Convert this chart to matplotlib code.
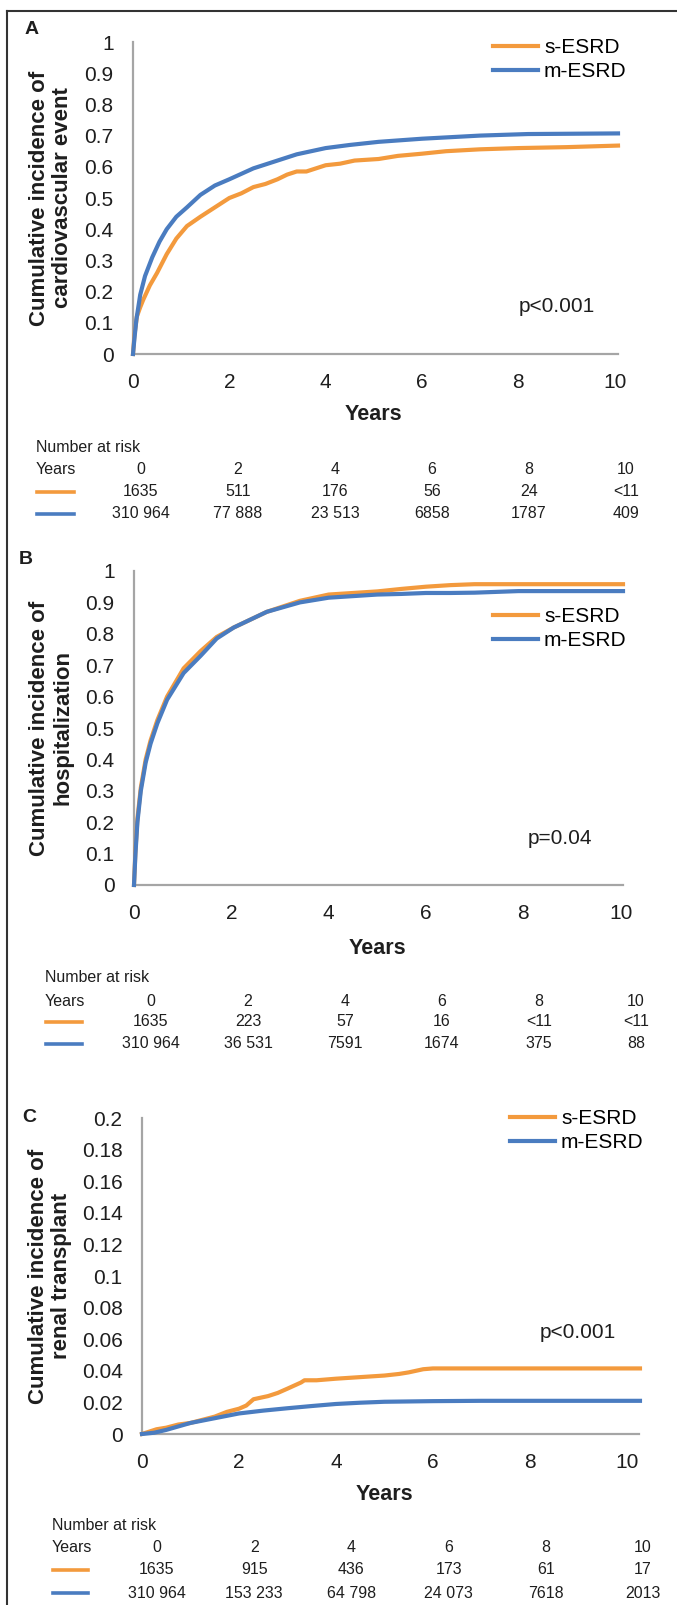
import matplotlib
import matplotlib.pyplot as plt
from matplotlib.lines import Line2D
from matplotlib.transforms import blended_transform_factory

W, H = 677, 1605
ORANGE = "#F39A3D"
BLUE = "#4A7CC0"
AXIS_GREY = "#A5A5A5"
TEXT = "#1E1E1E"

plt.rcParams["font.family"] = ["Liberation Sans", "DejaVu Sans"]

series_names = ["s-ESRD", "m-ESRD"]
risk_years = [0, 2, 4, 6, 8, 10]

# A: cardiovascular event
cv_t_s = [0, 0.03, 0.08, 0.15, 0.21, 0.35, 0.5, 0.7, 0.9, 1.12, 1.4, 1.7, 2, 2.25, 2.5,
          2.75, 3, 3.2, 3.4, 3.6, 3.8, 4, 4.3, 4.6, 5.1, 5.5, 6, 6.5, 7.2, 8, 9, 10.07]
cv_s = [0, 0.06, 0.12, 0.15, 0.173, 0.22, 0.26, 0.32, 0.37, 0.41, 0.44, 0.47, 0.50, 0.515, 0.535,
        0.545, 0.56, 0.575, 0.585, 0.585, 0.595, 0.605, 0.61, 0.62, 0.625, 0.635, 0.642, 0.65, 0.656, 0.66, 0.663, 0.668]
cv_t_m = [0, 0.03, 0.07, 0.15, 0.25, 0.4, 0.55, 0.7, 0.9, 1.12, 1.4, 1.7, 2, 2.5, 3, 3.4,
          4, 4.5, 5.1, 6, 7.2, 8.2, 10.07]
cv_m = [0, 0.05, 0.11, 0.19, 0.25, 0.31, 0.36, 0.40, 0.44, 0.47, 0.51, 0.54, 0.56, 0.595, 0.62, 0.64,
        0.66, 0.67, 0.68, 0.69, 0.70, 0.705, 0.707]
cv_risk_s = ["1635", "511", "176", "56", "24", "<11"]
cv_risk_m = ["310 964", "77 888", "23 513", "6858", "1787", "409"]

# B: hospitalization
hosp_t_s = [0, 0.03, 0.07, 0.14, 0.24, 0.34, 0.48, 0.68, 1.02, 1.37, 1.7, 2.05, 2.73, 3.41,
            4, 4.5, 5, 5.5, 6, 6.5, 7, 7.9, 10.05]
hosp_s = [0, 0.11, 0.21, 0.31, 0.40, 0.46, 0.525, 0.60, 0.69, 0.745, 0.79, 0.82, 0.87, 0.905,
          0.925, 0.93, 0.935, 0.943, 0.95, 0.955, 0.958, 0.958, 0.958]
hosp_t_m = [0, 0.03, 0.07, 0.14, 0.24, 0.34, 0.48, 0.68, 1.02, 1.37, 1.7, 2.05, 2.73, 3.41,
            4, 4.5, 5, 5.5, 6, 6.5, 7, 7.9, 10.05]
hosp_m = [0, 0.10, 0.20, 0.30, 0.39, 0.45, 0.515, 0.59, 0.675, 0.73, 0.785, 0.82, 0.87, 0.90,
          0.915, 0.92, 0.925, 0.927, 0.93, 0.93, 0.931, 0.936, 0.936]
hosp_risk_s = ["1635", "223", "57", "16", "<11", "<11"]
hosp_risk_m = ["310 964", "36 531", "7591", "1674", "375", "88"]

# C: renal transplant
tx_t_s = [0, 0.3, 0.5, 0.75, 1, 1.25, 1.5, 1.75, 2, 2.15, 2.3, 2.6, 2.8, 3, 3.28, 3.35,
          3.6, 4, 4.5, 5, 5.3, 5.5, 5.8, 6, 10.27]
tx_s = [0, 0.003, 0.004, 0.006, 0.007, 0.009, 0.011, 0.014, 0.016, 0.018, 0.022, 0.024, 0.026,
        0.0287, 0.0326, 0.034, 0.034, 0.035, 0.036, 0.037, 0.038, 0.039, 0.041, 0.0415, 0.0415]
tx_t_m = [0, 0.25, 0.5, 1, 1.5, 2, 2.5, 3, 3.5, 4, 4.5, 5, 6, 7, 10.27]
tx_m = [0, 0.0008, 0.0026, 0.007, 0.010, 0.013, 0.0148, 0.0163, 0.0177, 0.019, 0.0198, 0.0204,
        0.0208, 0.021, 0.021]
tx_risk_s = ["1635", "915", "436", "173", "61", "17"]
tx_risk_m = ["310 964", "153 233", "64 798", "24 073", "7618", "2013"]


def fx(px):
    return px / W


def fy(py):
    return 1 - py / H


def draw_panel(fig, p, t_s, s, t_m, m, risk_s, risk_m):
    left, right, top, bottom = p["box"]
    ax = fig.add_axes([fx(left), fy(bottom), (right - left) / W, (bottom - top) / H])
    ax.plot(t_s, s, color=ORANGE, lw=3, label=series_names[0], zorder=3, clip_on=False)
    ax.plot(t_m, m, color=BLUE, lw=3, label=series_names[1], zorder=4, clip_on=False)
    ax.set_xlim(0, p["xmax"])
    ax.set_ylim(0, p["ymax"])
    ax.set_xticks(risk_years)
    ax.set_yticks(p["yticks"])
    ax.set_yticklabels([f"{v:g}" for v in p["yticks"]])
    for side in ["top", "right"]:
        ax.spines[side].set_visible(False)
    for side in ["left", "bottom"]:
        ax.spines[side].set_color(AXIS_GREY)
        ax.spines[side].set_linewidth(1.6)
    ax.tick_params(length=0, labelsize=15, pad=14, labelcolor=TEXT)

    # legend sits on two rows, top-left corner at the orange key
    lx, ly = p["legend"]
    ax.legend(loc="upper left", bbox_to_anchor=(fx(lx), fy(ly)), bbox_transform=fig.transFigure,
              frameon=False, fontsize=15, handlelength=2.15, handletextpad=0.3,
              labelspacing=0.25, borderpad=0, borderaxespad=0)

    ax.text(fx(p["pval_xy"][0]), fy(p["pval_xy"][1]), p["pval"], transform=fig.transFigure,
            ha="center", va="center", fontsize=15, color=TEXT)
    fig.text(fx(p["letter"][0]), fy(p["letter"][1]), p["name"], ha="center", va="center",
             fontsize=14, fontweight="bold", color=TEXT)
    fig.text(fx(p["ylabel_x"]), fy((top + bottom) / 2), p["ylabel"], rotation=90, ha="center",
             va="center", multialignment="center", fontsize=16, fontweight="bold",
             color=TEXT, linespacing=1.15)
    x10 = left + (right - left) * 10 / p["xmax"]
    fig.text(fx((left + x10) / 2), fy(p["xlabel_y"]), "Years", ha="center", va="center",
             fontsize=15.5, fontweight="bold", color=TEXT)

    # number at risk table
    c0, c10 = p["cols"]
    tab = fig.add_axes([fx(c0), 0, (c10 - c0) / W, 0.001])
    tab.set_xlim(0, 10)
    tab.axis("off")
    tr = blended_transform_factory(tab.transData, fig.transFigure)
    y_nar, y_yr, y_s, y_m = p["rows"]
    kx0, kx1 = p["key"]
    fig.text(fx(kx0 - 1), fy(y_nar), "Number at risk", ha="left", va="center", fontsize=11.5, color=TEXT)
    fig.text(fx(kx0 - 1), fy(y_yr), "Years", ha="left", va="center", fontsize=11.5, color=TEXT)
    for yr, rs, rm in zip(risk_years, risk_s, risk_m):
        tab.text(yr, fy(y_yr), str(yr), transform=tr, ha="center", va="center", fontsize=11.5, color=TEXT)
        tab.text(yr, fy(y_s), rs, transform=tr, ha="center", va="center", fontsize=11.5, color=TEXT)
        tab.text(yr, fy(y_m), rm, transform=tr, ha="center", va="center", fontsize=11.5, color=TEXT)
    for yy, col in [(y_s, ORANGE), (y_m, BLUE)]:
        fig.add_artist(Line2D([fx(kx0), fx(kx1)], [fy(yy), fy(yy)], transform=fig.transFigure,
                              color=col, lw=2.6))
    return ax


def main():
    fig = plt.figure(figsize=(W / 100, H / 100), dpi=100)

    panels = [
        dict(name="A", box=(133, 618, 42, 354), xmax=10.07, ymax=1.0,
             yticks=[round(0.1 * i, 1) for i in range(11)],
             ylabel="Cumulative incidence of\ncardiovascular event", ylabel_x=51,
             legend=(493, 38), pval="p<0.001", pval_xy=(557, 306), letter=(32, 29),
             xlabel_y=415, cols=(141, 626), rows=(447, 470, 492, 514), key=(37, 74)),
        dict(name="B", box=(134, 623, 571, 885), xmax=10.05, ymax=1.0,
             yticks=[round(0.1 * i, 1) for i in range(11)],
             ylabel="Cumulative incidence of\nhospitalization", ylabel_x=51,
             legend=(493, 607), pval="p=0.04", pval_xy=(560, 838), letter=(26, 559),
             xlabel_y=948, cols=(151, 636), rows=(977, 1001, 1022, 1044), key=(46, 82)),
        dict(name="C", box=(142, 639, 1118, 1434), xmax=10.25, ymax=0.2,
             yticks=[round(0.02 * i, 2) for i in range(11)],
             ylabel="Cumulative incidence of\nrenal transplant", ylabel_x=50,
             legend=(510, 1109), pval="p<0.001", pval_xy=(578, 1332), letter=(29, 1118),
             xlabel_y=1495, cols=(157, 643), rows=(1525, 1548, 1570, 1593), key=(53, 88)),
    ]
    data = [
        (cv_t_s, cv_s, cv_t_m, cv_m, cv_risk_s, cv_risk_m),
        (hosp_t_s, hosp_s, hosp_t_m, hosp_m, hosp_risk_s, hosp_risk_m),
        (tx_t_s, tx_s, tx_t_m, tx_m, tx_risk_s, tx_risk_m),
    ]
    for p, d in zip(panels, data):
        draw_panel(fig, p, *d)

    # outer frame (left and top edges)
    fig.add_artist(Line2D([fx(7), fx(7)], [fy(11), 0], transform=fig.transFigure, color="#333333", lw=1.5))
    fig.add_artist(Line2D([fx(7), 1], [fy(11), fy(11)], transform=fig.transFigure, color="#333333", lw=1.5))

    fig.savefig("out.png", dpi=100)
    plt.close(fig)


if __name__ == "__main__":
    main()
